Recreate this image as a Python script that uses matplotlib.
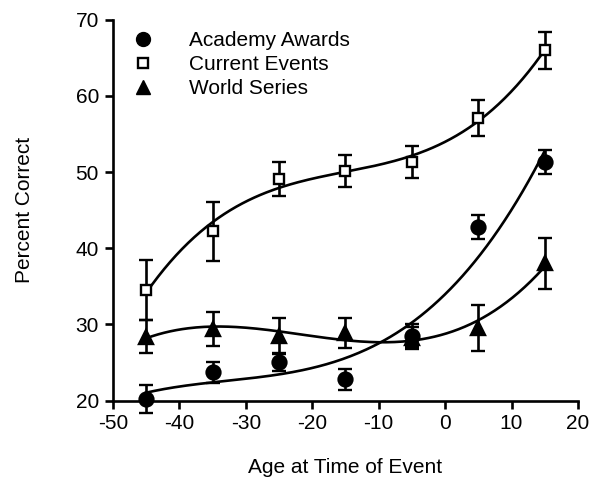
import numpy as np
import matplotlib
matplotlib.use("Agg")
import matplotlib.pyplot as plt
from matplotlib.lines import Line2D

plt.rcParams['font.family'] = ['Liberation Sans', 'DejaVu Sans']
plt.rcParams['axes.unicode_minus'] = False

# data
age = [-45, -35, -25, -15, -5, 5, 15]
academy = [20.2, 23.7, 25.0, 22.8, 28.5, 42.8, 51.3]
academy_err = [1.8, 1.4, 1.1, 1.4, 1.5, 1.6, 1.6]
current = [34.5, 42.2, 49.1, 50.2, 51.3, 57.1, 66.0]
current_err = [3.9, 3.9, 2.2, 2.1, 2.1, 2.3, 2.4]
world = [28.4, 29.4, 28.5, 28.9, 28.2, 29.5, 38.0]
world_err = [2.2, 2.2, 2.3, 2.0, 1.4, 3.0, 3.3]

fig = plt.figure(figsize=(5.91, 4.82), dpi=100)
ax = fig.add_axes([0.191, 0.169, 0.787, 0.79])

xs = np.linspace(-45, 15, 200)
series = [
    (academy, academy_err, 'o', 'black', 10),
    (current, current_err, 's', 'white', 7.5),
    (world, world_err, '^', 'black', 10),
]
for vals, err, mk, fc, ms in series:
    # smooth trend line through each series
    coef = np.polyfit(age, vals, 3)
    ax.plot(xs, np.polyval(coef, xs), color='black', lw=1.9, zorder=2)
    ax.errorbar(age, vals, yerr=err, fmt=mk, mfc=fc, mec='black', mew=1.7,
                ms=ms, ecolor='black', elinewidth=1.9, capsize=5, capthick=1.9,
                zorder=3, clip_on=False)

ax.set_xlim(-50, 20)
ax.set_ylim(20, 70)
ax.set_xticks(range(-50, 21, 10))
ax.set_yticks(range(20, 71, 10))
ax.spines['top'].set_visible(False)
ax.spines['right'].set_visible(False)
ax.spines['left'].set_linewidth(1.9)
ax.spines['bottom'].set_linewidth(1.9)
ax.tick_params(direction='out', length=6, width=1.9, labelsize=15, pad=4)
ax.set_xlabel('Age at Time of Event', fontsize=15, labelpad=18)
ax.set_ylabel('Percent Correct', fontsize=15, labelpad=30)

handles = [
    Line2D([], [], marker='o', ls='none', mfc='black', mec='black', ms=10),
    Line2D([], [], marker='s', ls='none', mfc='white', mec='black', mew=1.7, ms=7.5),
    Line2D([], [], marker='^', ls='none', mfc='black', mec='black', ms=10),
]
ax.legend(handles, ['Academy Awards', 'Current Events', 'World Series'],
          loc='upper left', bbox_to_anchor=(-0.02, 1.02), frameon=False,
          fontsize=15, handletextpad=1.2, labelspacing=0.25)

fig.savefig('out.png', dpi=100)
